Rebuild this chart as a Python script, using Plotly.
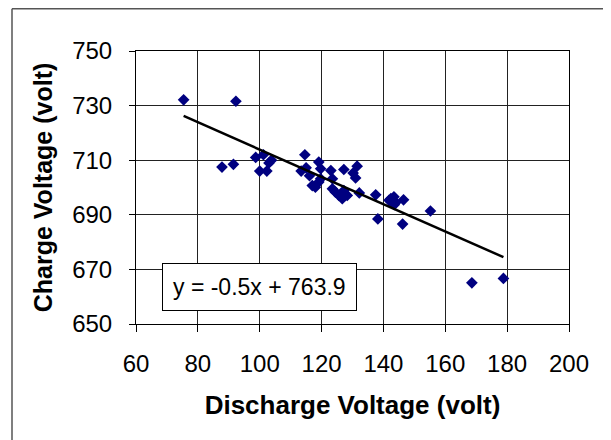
import plotly.graph_objects as go

discharge_v = [75.4, 92.3, 87.8, 91.5, 98.7, 101.2, 100.0, 102.3, 103.0, 103.8,
               114.6, 113.4, 115.0, 116.1, 117.0, 118.0, 119.1, 119.7, 119.7, 119.1,
               123.0, 123.5, 123.5, 124.5, 125.6, 126.7, 128.3, 127.2, 127.2, 130.2,
               131.0, 131.5, 132.2, 137.5, 138.2, 141.8, 142.4, 143.4, 144.0, 143.5,
               146.5, 146.2, 155.2, 168.6, 178.8]
charge_v = [732.1, 731.6, 707.5, 708.5, 711.0, 712.0, 706.0, 706.0, 709.0, 710.0,
            712.0, 706.0, 707.2, 704.3, 700.7, 700.1, 709.3, 706.9, 703.2, 702.0,
            706.2, 703.2, 699.5, 698.3, 697.1, 695.9, 697.1, 698.9, 706.6, 705.3,
            703.5, 707.8, 698.0, 697.3, 688.5, 695.3, 695.9, 696.6, 694.5, 693.7,
            695.5, 686.6, 691.4, 665.1, 666.7]

slope = -0.5
intercept = 763.9
x_ticks = [60, 80, 100, 120, 140, 160, 180, 200]
y_ticks = [650, 670, 690, 710, 730, 750]
equation_label = "y = -0.5x + 763.9"

x_line = [min(discharge_v), max(discharge_v)]
y_line = [slope * x + intercept for x in x_line]

fig = go.Figure()
fig.add_trace(go.Scatter(x=discharge_v, y=charge_v, mode="markers",
                         marker=dict(symbol="diamond", size=9, color="#000080",
                                     line=dict(width=0)),
                         showlegend=False))
fig.add_trace(go.Scatter(x=x_line, y=y_line, mode="lines",
                         line=dict(color="black", width=2.5), showlegend=False))

fam = "Liberation Sans, Arial, sans-serif"
tick_font = dict(family=fam, size=24, color="black")
title_font = dict(family=fam, size=25, color="black")

PL, PT, PW, PH = 128, 43, 433, 273  # plot area in figure pixels
def px(x):
    return (x - PL) / PW
def py(y):
    return (PT + PH - y) / PH

fig.update_layout(
    width=611, height=440,
    margin=dict(l=PL, r=611 - PL - PW, t=PT, b=440 - PT - PH),
    paper_bgcolor="white", plot_bgcolor="white",
    font=tick_font,
    xaxis=dict(range=[60, 200], tickvals=x_ticks, ticks="outside", ticklen=7,
               tickcolor="black", showline=True, linecolor="black", linewidth=1,
               mirror=True, showgrid=True, gridcolor="#222", gridwidth=1,
               zeroline=False, ticklabelstandoff=11, tickfont=tick_font,
               title=dict(text="<b>Discharge Voltage (volt)</b>", standoff=20,
                          font=dict(family=fam, size=26, color="black"))),
    yaxis=dict(range=[650, 750], tickvals=y_ticks, ticks="outside", ticklen=6,
               tickcolor="black", showline=True, linecolor="black", linewidth=1,
               mirror=True, showgrid=True, gridcolor="#222", gridwidth=1,
               zeroline=False, ticklabelstandoff=12, tickfont=tick_font,
               title=dict(text="<b>Charge Voltage (volt)</b>", standoff=12,
                          font=title_font)),
    annotations=[dict(text=equation_label, xref="paper", yref="paper",
                      xanchor="left", yanchor="middle",
                      x=px(154), y=py(279), showarrow=False,
                      font=dict(family=fam, size=23, color="black"),
                      bgcolor="white", bordercolor="black",
                      borderwidth=1, borderpad=10)],
    shapes=[dict(type="line", xref="paper", yref="paper",
                 x0=px(4), x1=px(4), y0=py(445), y1=py(0.75),
                 line=dict(color="#555", width=1.5)),
            dict(type="line", xref="paper", yref="paper",
                 x0=px(4), x1=px(620), y0=py(0.75), y1=py(0.75),
                 line=dict(color="#555", width=1.5))],
)

fig.write_html("out.html")
